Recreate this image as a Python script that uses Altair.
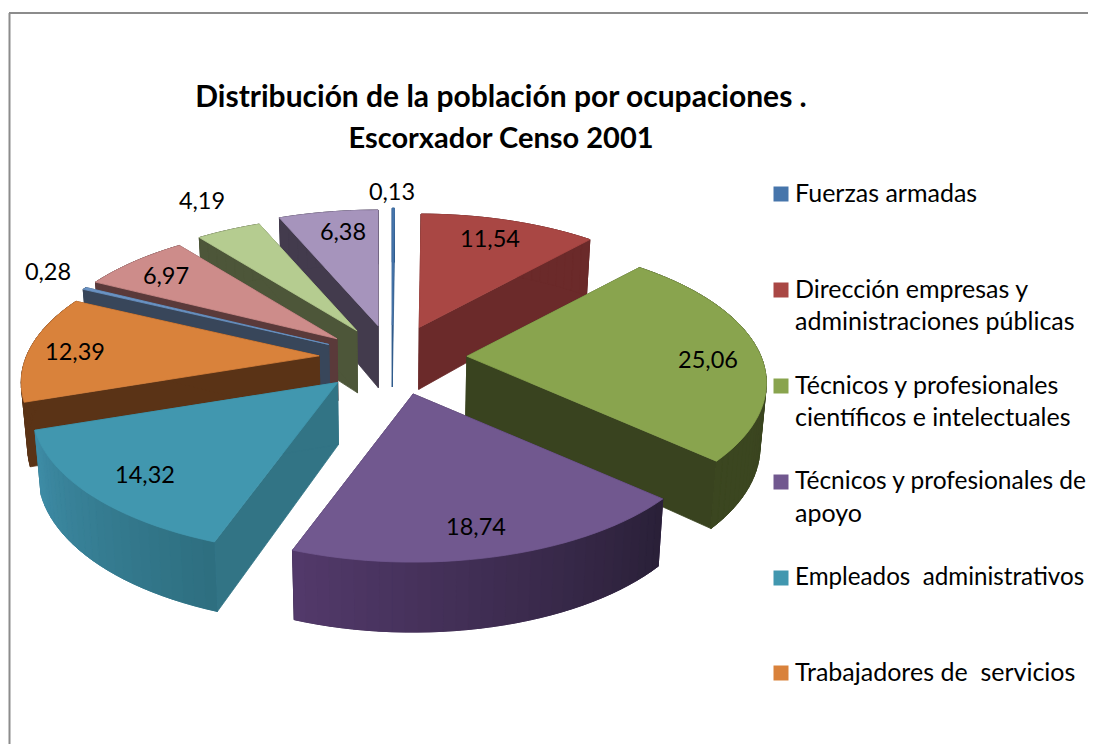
import math
import altair as alt

# --- data ---
categories = ["Fuerzas armadas", "Dirección empresas y administraciones públicas",
              "Técnicos y profesionales científicos e intelectuales",
              "Técnicos y profesionales de apoyo", "Empleados administrativos",
              "Trabajadores de servicios", "Agricultura", "Artesanos", "Operadores", "No cualificados"]
values = [0.13, 11.54, 25.06, 18.74, 14.32, 12.39, 0.28, 6.97, 4.19, 6.38]
value_labels = ["0,13", "11,54", "25,06", "18,74", "14,32", "12,39", "0,28", "6,97", "4,19", "6,38"]
top_colors = ["#4675AB", "#A94744", "#89A44E", "#71588F", "#4197AF", "#D9823B", "#6A93C4", "#CD8C8A", "#B5CC90", "#A694BC"]
wall_start = ["#2F5A8C", "#6B2A2A", "#39431F", "#2A2038", "#2E6F80", "#5A3316", "#38465A", "#5A3A3A", "#4D5639", "#433B4D"]
wall_end = ["#2F5A8C", "#6B2A2A", "#3B4620", "#52396A", "#3E8CA6", "#5A3316", "#38465A", "#5A3A3A", "#4D5639", "#433B4D"]
edge_colors = ["#2F5A8C", "#6B2A2A", "#39431F", "#3A2A4C", "#327485", "#5A3316", "#38465A", "#5A3A3A", "#4D5639", "#433B4D"]
radius_scale = [1.0, 0.97, 0.98, 0.98, 1.0, 0.975, 0.985, 0.98, 0.98, 0.99]
nudge = [(0, 2), (0, 2), (0, 0), (3, 2), (-1, 0), (2, 0), (4, 2), (3, 3), (3, 3), (1, 2)]

title_lines = ["Distribución de la población por ocupaciones .", "Escorxador Censo 2001"]
title_size = [30, 29]
legend_rows = [
    ("Fuerzas armadas", "#4675AB"),
    ("Dirección empresas y", "#A94744"),
    ("administraciones públicas", None),
    ("Técnicos y profesionales", "#89A44E"),
    ("científicos e intelectuales", None),
    ("Técnicos y profesionales de", "#71588F"),
    ("apoyo", None),
    ("Empleados\u00a0 administrativos", "#4197AF"),
    ("\u00a0Trabajadores de\u00a0 servicios", "#D9823B"),
]
legend_y = [194, 290, 322, 386, 418, 482, 514, 578, 673]
legend_size = [25, 25, 25, 25, 25, 24.5, 25, 24.2, 25]
label_xy = [(392, 192), (490, 239), (708, 360), (476, 527), (145, 475), (75, 352), (48, 272), (166, 276), (202, 201), (343, 232)]

OFF = 8  # page margin
CX, CY, EX, EY = 392, 358, 75, 35
RX, RY, K = 300, 139, 0.19


def rim(th):
    X, Y = math.sin(th), math.cos(th)
    d = 1 + K * Y
    return RX * X / d, -RY * Y / d, Y


def lower(x, y, Y):
    return CX + (x - CX) * 0.983, y + 62 - 8 * Y


def feature(pts, fill):
    ring = [[p[0] - OFF, p[1] - OFF] for p in pts]
    ring.append(ring[0])
    return {"type": "Feature", "properties": {"fill": fill},
            "geometry": {"type": "Polygon", "coordinates": [ring]}}


def mix(a, b, t):
    ca = [int(a[i:i + 2], 16) for i in (1, 3, 5)]
    cb = [int(b[i:i + 2], 16) for i in (1, 3, 5)]
    return "#" + "".join(f"{round(x + (y - x) * t):02x}" for x, y in zip(ca, cb))


total = sum(values)
slices = []
acc = 0.0
for i, v in enumerate(values):
    a0 = acc / total * 2 * math.pi
    acc += v
    a1 = acc / total * 2 * math.pi
    slices.append((i, a0, a1, (a0 + a1) / 2))

features = []
for i, a0, a1, mid in sorted(slices, key=lambda s: -math.cos(s[3])):
    ax = CX + EX * math.sin(mid) + nudge[i][0]
    ay = CY - EY * math.cos(mid) + nudge[i][1]
    n = max(2, int((a1 - a0) / math.radians(2)))
    ths = [a0 + (a1 - a0) * j / n for j in range(n + 1)]
    rimpts = []
    for th in ths:
        dx, dy, Y = rim(th)
        rimpts.append((ax + dx * radius_scale[i], ay + dy * radius_scale[i], Y))
    apex_low = lower(ax, ay, 0)
    # radial walls
    for p in (rimpts[0], rimpts[-1]):
        features.append(feature([(ax, ay), p[:2], lower(*p), apex_low], edge_colors[i]))
    # whole outer wall as a base, then shaded strips along the arc
    features.append(feature([p[:2] for p in rimpts] + [lower(*p) for p in reversed(rimpts)],
                            mix(wall_start[i], wall_end[i], 0.5)))
    for j in range(n):
        p, q = rimpts[j], rimpts[j + 1]
        features.append(feature([p[:2], q[:2], lower(*q), lower(*p)],
                                mix(wall_start[i], wall_end[i], j / max(1, n - 1))))
    # top face
    features.append(feature([(ax, ay)] + [p[:2] for p in rimpts], top_colors[i]))

W, H = 1080, 736
pie = alt.Chart(alt.Data(values=features)).mark_geoshape(strokeWidth=0.8).encode(
    fill=alt.Fill("properties.fill:N", scale=None, legend=None),
    stroke=alt.Stroke("properties.fill:N", scale=None, legend=None),
).project(type="identity", scale=1, translate=[0, 0])

FONT = "Lato"


def text(s, x, y, size, align="center", weight="normal"):
    return alt.Chart(alt.Data(values=[{"t": s}])).mark_text(
        font=FONT, fontSize=size, align=align, baseline="middle", fontWeight=weight, color="#000000"
    ).encode(text="t:N", x=alt.value(x - OFF), y=alt.value(y - OFF))


layers = [pie]
one = alt.Data(values=[{"a": 1}])
layers.append(alt.Chart(one).mark_rule(color="#8C8C8C", strokeWidth=2).encode(
    x=alt.value(9 - OFF + 0.5), y=alt.value(13 - OFF), y2=alt.value(H)))
layers.append(alt.Chart(one).mark_rule(color="#8C8C8C", strokeWidth=2).encode(
    x=alt.value(9 - OFF), x2=alt.value(W), y=alt.value(13 - OFF)))

for s, y, size in zip(title_lines, (98, 139), title_size):
    layers.append(text(s, 501, y, size, weight="bold"))
for s, (x, y) in zip(value_labels, label_xy):
    layers.append(text(s, x, y + 1, 23.5))
for (s, col), y, size in zip(legend_rows, legend_y, legend_size):
    layers.append(text(s, 795, y, size, align="left"))
    if col:
        layers.append(alt.Chart(one).mark_square(size=225, color=col, opacity=1, filled=True).encode(
            x=alt.value(781 - OFF), y=alt.value(y - OFF)))

chart = alt.layer(*layers).properties(width=W, height=H, padding=0, autosize=alt.AutoSizeParams(type="none")).configure_view(stroke=None)
chart.save("out.html", embed_options={"renderer": "svg", "actions": False})
